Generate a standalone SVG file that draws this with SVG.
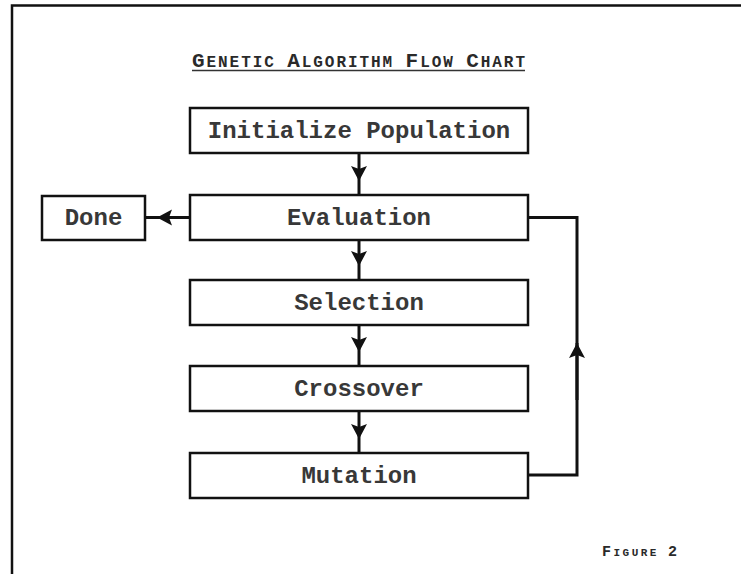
<svg xmlns="http://www.w3.org/2000/svg" width="741" height="574" viewBox="0 0 741 574">
<style>
.box{fill:#fff;stroke:#111;stroke-width:2.5}
.lbl{font-family:"Liberation Mono","Courier New",monospace;font-weight:bold;font-size:24px;fill:#383838;text-anchor:middle}
.ttl{font-family:"Liberation Mono","Courier New",monospace;font-weight:bold;fill:#2a2a2a}
.con{fill:none;stroke:#111;stroke-width:3}
</style>
<defs>
<marker id="ah" viewBox="-16 -9 18 18" markerWidth="18" markerHeight="18" refX="0" refY="0" orient="auto" markerUnits="userSpaceOnUse">
<path d="M0,0 L-15,-8 L-12,0 L-15,8 Z" fill="#111"/>
</marker>
</defs>
<rect width="741" height="574" fill="#fff"/>
<path d="M12,574 L12,5.5 L741,5.5" fill="none" stroke="#111" stroke-width="2.5"/>
<g id="title">
<text class="ttl" x="192" y="67" textLength="333" lengthAdjust="spacing"><tspan font-size="21">G</tspan><tspan font-size="16">ENETIC  </tspan><tspan font-size="21">A</tspan><tspan font-size="16">LGORITHM  </tspan><tspan font-size="21">F</tspan><tspan font-size="16">LOW  </tspan><tspan font-size="21">C</tspan><tspan font-size="16">HART</tspan></text>
<line x1="192" y1="70.5" x2="525" y2="70.5" stroke="#333" stroke-width="1.5"/>
</g>
<g id="connectors">
<path class="con" d="M359,153 L359,181 L359,195" marker-mid="url(#ah)"/>
<path class="con" d="M359,240 L359,266 L359,280" marker-mid="url(#ah)"/>
<path class="con" d="M359,325 L359,352 L359,366" marker-mid="url(#ah)"/>
<path class="con" d="M359,411 L359,439 L359,453" marker-mid="url(#ah)"/>
<path class="con" d="M190,217.5 L157,217.5 L145,217.5" marker-mid="url(#ah)"/>
<path class="con" d="M528,475 L577,475 L577,343 L577,217.5 L528,217.5"/>
<path class="con" d="M577,400 L577,343" marker-end="url(#ah)"/>
</g>
<g id="init"><rect class="box" x="190" y="108" width="338" height="45"/><text class="lbl" x="359" y="138">Initialize Population</text></g>
<g id="evaluation"><rect class="box" x="190" y="195" width="338" height="45"/><text class="lbl" x="359" y="225">Evaluation</text></g>
<g id="done"><rect class="box" x="42" y="196" width="103" height="44"/><text class="lbl" x="93.5" y="225">Done</text></g>
<g id="selection"><rect class="box" x="190" y="280" width="338" height="45"/><text class="lbl" x="359" y="310">Selection</text></g>
<g id="crossover"><rect class="box" x="190" y="366" width="338" height="45"/><text class="lbl" x="359" y="396">Crossover</text></g>
<g id="mutation"><rect class="box" x="190" y="453" width="338" height="45"/><text class="lbl" x="359" y="483">Mutation</text></g>
<g id="figure"><text class="ttl" x="602" y="556" textLength="75" lengthAdjust="spacing" fill="#444"><tspan font-size="15">F</tspan><tspan font-size="11">IGURE  </tspan><tspan font-size="15">2</tspan></text></g>
</svg>
